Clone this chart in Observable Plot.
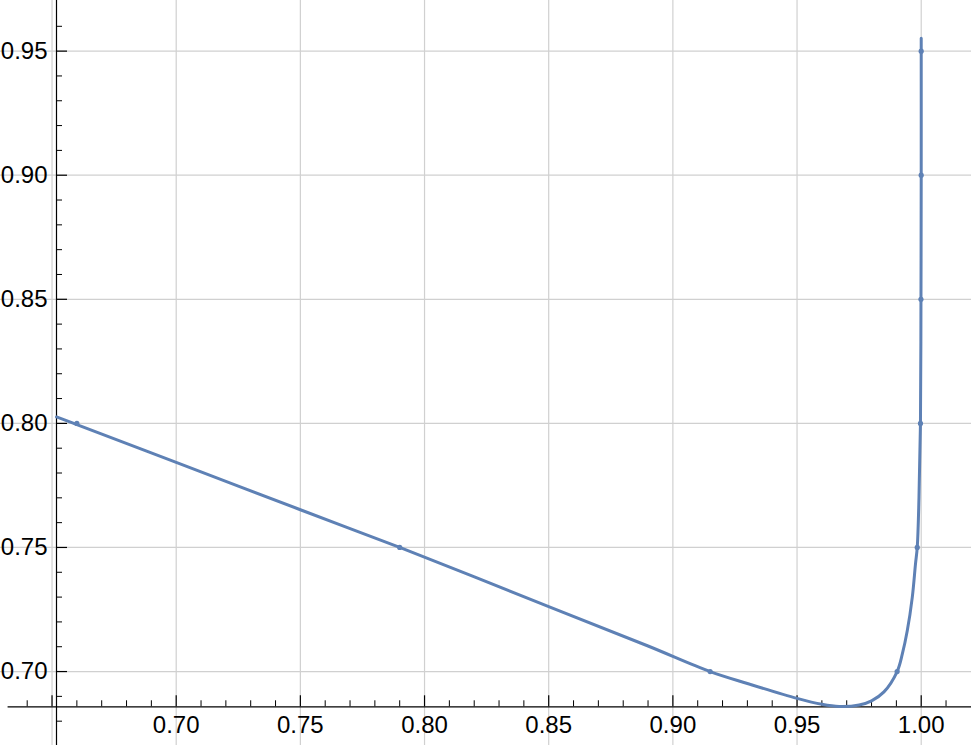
<!DOCTYPE html>
<html><head><meta charset="utf-8">
<script src="https://cdn.jsdelivr.net/npm/d3@7"></script>
<script src="https://cdn.jsdelivr.net/npm/@observablehq/plot@0.6"></script>
<style>body{margin:0;background:#fff}</style>
</head><body><div id="chart"></div>
<script>
// Curve values
const curveX = [0.6518, 0.66, 0.70, 0.75, 0.79, 0.85, 0.89, 0.915, 0.93, 0.95, 0.96, 0.967, 0.975, 0.98, 0.985, 0.9903, 0.9924, 0.9944, 0.9964, 0.9977, 0.9984, 0.9991, 0.9997, 0.9999, 1.0, 1.0];
const curveY = [0.8026, 0.7995, 0.7843, 0.7652, 0.7500, 0.7262, 0.7103, 0.7000, 0.6952, 0.6892, 0.6868, 0.6859, 0.6865, 0.6882, 0.6918, 0.7000, 0.7071, 0.7165, 0.7299, 0.7434, 0.7500, 0.7700, 0.8000, 0.8500, 0.9000, 0.9552];
// small marks where the curve crosses grid lines
const markX = [0.66, 0.79, 0.915, 0.9903, 0.9984, 0.9997, 0.9999, 1.0, 1.0];
const markY = [0.80, 0.75, 0.70, 0.70, 0.75, 0.80, 0.85, 0.90, 0.95];

const xTickValues = [0.70, 0.75, 0.80, 0.85, 0.90, 0.95, 1.00];
const xTickLabels = ["0.70", "0.75", "0.80", "0.85", "0.90", "0.95", "1.00"];
const yTickValues = [0.70, 0.75, 0.80, 0.85, 0.90, 0.95];
const yTickLabels = ["0.70", "0.75", "0.80", "0.85", "0.90", "0.95"];
const xGridValues = [0.65, 0.70, 0.75, 0.80, 0.85, 0.90, 0.95, 1.00];
const yGridValues = [0.70, 0.75, 0.80, 0.85, 0.90, 0.95];
const xMinorValues = [0.64,0.66,0.67,0.68,0.69,0.71,0.72,0.73,0.74,0.76,0.77,0.78,0.79,0.81,0.82,0.83,0.84,0.86,0.87,0.88,0.89,0.91,0.92,0.93,0.94,0.96,0.97,0.98,0.99,1.01];
const yMinorValues = [0.68,0.69,0.71,0.72,0.73,0.74,0.76,0.77,0.78,0.79,0.81,0.82,0.83,0.84,0.86,0.87,0.88,0.89,0.91,0.92,0.93,0.94,0.96];

const X_DOMAIN = [0.62925, 1.02025];
const Y_DOMAIN = [0.6702, 0.9704];
const AXIS_X = 0.6518;   // where the vertical axis crosses
const AXIS_Y = 0.6858;   // where the horizontal axis crosses
const X_AXIS_START = 0.6323;

const W = 971, H = 745;
const pxX = (X_DOMAIN[1] - X_DOMAIN[0]) / W;
const pxY = (Y_DOMAIN[1] - Y_DOMAIN[0]) / H;

const curve = curveX.map((x, i) => ({x, y: curveY[i]}));
const marks = markX.map((x, i) => ({x, y: markY[i]}));
const xLab = xTickValues.map((v, i) => ({v, t: xTickLabels[i]}));
const yLab = yTickValues.map((v, i) => ({v, t: yTickLabels[i]}));

const blue = "#5E81B5";
const grid = "#d0d0d0";
const font = "Liberation Sans, Arial, Helvetica, sans-serif";

const chart = Plot.plot({
  width: W, height: H,
  margin: 0,
  style: {background: "#fff", fontFamily: font},
  x: {domain: X_DOMAIN, axis: null},
  y: {domain: Y_DOMAIN, axis: null},
  marks: [
    Plot.ruleX(xGridValues, {x: d => d, stroke: grid, strokeWidth: 1.2}),
    Plot.ruleY(yGridValues, {y: d => d, stroke: grid, strokeWidth: 1.2}),
    // axes lines
    Plot.ruleX([AXIS_X], {x: d => d, stroke: "#000", strokeWidth: 1.2}),
    Plot.ruleY([AXIS_Y], {y: d => d, x1: () => X_AXIS_START, x2: () => X_DOMAIN[1], stroke: "#000", strokeWidth: 1.2}),
    // x ticks (pointing up)
    Plot.ruleX([0.65, ...xTickValues], {x: d => d, y1: () => AXIS_Y, y2: () => AXIS_Y + 11 * pxY, stroke: "#000", strokeWidth: 1.2}),
    Plot.ruleX(xMinorValues, {x: d => d, y1: () => AXIS_Y, y2: () => AXIS_Y + 6 * pxY, stroke: "#000", strokeWidth: 1}),
    // y ticks (pointing right)
    Plot.ruleY(yTickValues, {y: d => d, x1: () => AXIS_X, x2: () => AXIS_X + 11 * pxX, stroke: "#000", strokeWidth: 1.2}),
    Plot.ruleY(yMinorValues, {y: d => d, x1: () => AXIS_X, x2: () => AXIS_X + 6 * pxX, stroke: "#000", strokeWidth: 1}),
    // labels
    Plot.text(xLab, {x: "v", y: () => AXIS_Y, text: "t", dy: 19, fontSize: 24, fill: "#000", lineAnchor: "middle"}),
    Plot.text(yLab, {x: () => AXIS_X, y: "v", text: "t", dx: -9, textAnchor: "end", fontSize: 24, fill: "#000", lineAnchor: "middle"}),
    // curve
    Plot.line(curve, {x: "x", y: "y", stroke: blue, strokeWidth: 3, curve: "catmull-rom"}),
    Plot.dot(marks, {x: "x", y: "y", r: 2.6, fill: blue})
  ]
});
document.getElementById("chart").append(chart);
</script>
</body></html>
